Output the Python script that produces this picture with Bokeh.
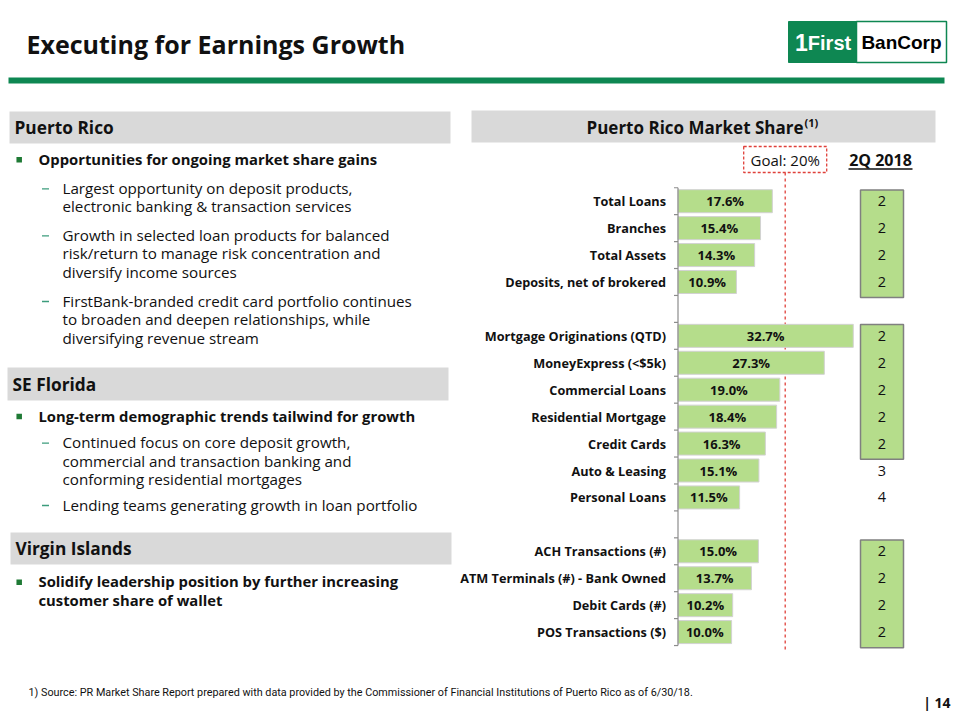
import numpy as np
from bokeh.plotting import figure
from bokeh.models import Range1d
from bokeh.embed import file_html
from bokeh.resources import INLINE
from bokeh.core.properties import value

# ---------------- DATA ----------------
categories = [
    "Total Loans", "Branches", "Total Assets", "Deposits, net of brokered",
    "Mortgage Originations (QTD)", "MoneyExpress (<$5k)", "Commercial Loans",
    "Residential Mortgage", "Credit Cards", "Auto & Leasing", "Personal Loans",
    "ACH Transactions (#)", "ATM Terminals (#) - Bank Owned", "Debit Cards (#)",
    "POS Transactions ($)",
]
shares = [17.6, 15.4, 14.3, 10.9, 32.7, 27.3, 19.0, 18.4, 16.3, 15.1, 11.5,
          15.0, 13.7, 10.2, 10.0]
ranks = [2, 2, 2, 2, 2, 2, 2, 2, 2, 3, 4, 2, 2, 2, 2]
groups = [0, 0, 0, 0, 1, 1, 1, 1, 1, 1, 1, 2, 2, 2, 2]
goal = 20.0
rank_title = "2Q 2018"
chart_title = "Puerto Rico Market Share"
slide_title = "Executing for Earnings Growth"
footnote = ("1) Source: PR Market Share Report prepared with data provided by the "
            "Commissioner of Financial Institutions of Puerto Rico as of 6/30/18.")
page_no = "| 14"

sections = [
    ("Puerto Rico", [
        ("b", ["Opportunities for ongoing market share gains"]),
        ("d", ["Largest opportunity on deposit products,",
               "electronic banking & transaction services"]),
        ("d", ["Growth in selected loan products for balanced",
               "risk/return to manage risk concentration and",
               "diversify income sources"]),
        ("d", ["FirstBank-branded credit card portfolio continues",
               "to broaden and deepen relationships, while",
               "diversifying revenue stream"]),
    ]),
    ("SE Florida", [
        ("b", ["Long-term demographic trends tailwind for growth"]),
        ("d", ["Continued focus on core deposit growth,",
               "commercial and transaction banking and",
               "conforming residential mortgages"]),
        ("d", ["Lending teams generating growth in loan portfolio"]),
    ]),
    ("Virgin Islands", [
        ("b", ["Solidify leadership position by further increasing",
               "customer share of wallet"]),
    ]),
]

# ---------------- STYLE / LAYOUT ----------------
W, H = 960, 720
FONT = value("Open Sans")
GREEN = "#0E8752"
BAR = "#B5DD8B"
GRAY_BOX = "#D9D9D9"
RED = "#E0403A"

X0, SC = 677.5, 5.36      # pixel of 0 %, pixels per %
Y0, RW = 200.7, 26.93     # pixel of first row centre, pixels per row

p = figure(width=W, height=H, x_range=Range1d(0, W), y_range=Range1d(H, 0),
           toolbar_location=None, output_backend="svg", min_border=0,
           x_axis_location=None, y_axis_location=None, title=None)
p.grid.visible = False
p.outline_line_color = None
p.background_fill_color = "white"
p.border_fill_color = "white"
p.extra_x_ranges = {"pct": Range1d(-X0 / SC, (W - X0) / SC)}
p.extra_y_ranges = {"row": Range1d((H - Y0) / RW, -Y0 / RW)}


def txt(x, y, s, size, bold=False, color="#000000", align="left",
        baseline="middle", font=FONT, **kw):
    p.text(x=[x], y=[y], text=[s], text_font=font, text_font_size=f"{size}px",
           text_font_style="bold" if bold else "normal", text_color=color,
           text_align=align, text_baseline=baseline, **kw)


# ---------------- HEADER ----------------
txt(26, 43, slide_title, 25, bold=True, color="#111111")
p.quad(left=[8], right=[944], top=[77], bottom=[83], fill_color=GREEN, line_color=None)
# logo
p.quad(left=[788], right=[856], top=[21], bottom=[62], fill_color=GREEN, line_color=GREEN)
p.quad(left=[856], right=[946], top=[21], bottom=[62], fill_color="white",
       line_color=GREEN, line_width=1.5)
txt(801, 42, "1", 23, bold=True, color="white", align="center",
    font=value("Liberation Sans"))
txt(829, 42, "First", 20, bold=True, color="white", align="center",
    font=value("Liberation Sans"))
txt(901, 42, "BanCorp", 19, bold=True, color="#000000", align="center",
    font=value("Liberation Sans"))

# ---------------- LEFT TEXT ----------------
box_pos = [(9, 450, 111, 143), (7, 448, 367, 400), (10, 451, 532, 564)]
line_y = [
    [[158.3], [187.3, 205.7], [234.3, 252.7, 271.0], [300.0, 318.7, 337.0]],
    [[415.0], [441.7, 460.0, 478.3], [504.0]],
    [[580.7, 599.3]],
]
for (head, items), (l, r, t, b), ys in zip(sections, box_pos, line_y):
    p.quad(left=[l], right=[r], top=[t], bottom=[b], fill_color=GRAY_BOX, line_color=None)
    txt(l + 5, (t + b) / 2, head, 17.3, bold=True, color="#111111")
    for (kind, lines), yy in zip(items, ys):
        if kind == "b":
            p.scatter(x=[18.7], y=[yy[0] + 1], marker="square", size=5.5,
                      fill_color="#1F7A35", line_color=None)
            for s, y in zip(lines, yy):
                txt(38, y, s, 14.8, bold=True, color="#111111")
        else:
            p.segment(x0=[41.5], x1=[48.5], y0=[yy[0] + 1], y1=[yy[0] + 1],
                      line_color="#3C9C7C", line_width=1.3)
            for s, y in zip(lines, yy):
                txt(62, y, s, 15.2, color="#111111")

# ---------------- CHART ----------------
p.quad(left=[471], right=[935], top=[110], bottom=[142], fill_color=GRAY_BOX, line_color=None)
txt(803, 127, chart_title, 17, bold=True, color="#111111", align="right")
txt(804, 122, "(1)", 11, bold=True, color="#111111", align="left")

rows = np.array([i + g for i, g in enumerate(groups)], dtype=float)
max_row = rows.max()

# goal line and box
p.segment(x0=[goal], x1=[goal], y0=[172], y1=[652], x_range_name="pct",
          line_color=RED, line_dash="3 3", line_width=1.3)
p.rect(x=[goal], y=[159], width=83, height=26, width_units="screen",
       height_units="screen", x_range_name="pct", fill_color="white",
       line_color=RED, line_dash="3 2", line_width=1.3)
p.text(x=[goal], y=[159], text=[f"Goal: {goal:.0f}%"], x_range_name="pct",
       text_font=FONT, text_font_size="15px", text_align="center",
       text_baseline="middle", text_color="#111111")

# bars
p.hbar(y=rows, left=0, right=shares, height=0.855, x_range_name="pct",
       y_range_name="row", fill_color=BAR, line_color="#D2D2D2", line_width=1)

# axis line and boundary ticks
p.segment(x0=[0], x1=[0], y0=[-0.5], y1=[max_row + 0.5], x_range_name="pct",
          y_range_name="row", line_color="#8C8C8C", line_width=1.2)
bounds = np.arange(-0.5, max_row + 1.0, 1.0)
p.segment(x0=np.zeros_like(bounds), x1=np.full_like(bounds, -4 / SC), y0=bounds,
          y1=bounds, x_range_name="pct", y_range_name="row",
          line_color="#8C8C8C", line_width=1.2)

# category labels
p.text(x=np.zeros(len(rows)), y=rows, text=categories, x_offset=-12,
       x_range_name="pct", y_range_name="row", text_font=FONT,
       text_font_size="12.7px", text_font_style="bold", text_align="right",
       text_baseline="middle", text_color="#111111")
# value labels
p.text(x=np.array(shares) / 2, y=rows, text=[f"{v:.1f}%" for v in shares],
       x_range_name="pct", y_range_name="row", text_font=FONT,
       text_font_size="13px", text_font_style="bold", text_align="center",
       text_baseline="middle", text_color="#111111")

# rank column
txt(880, 159, rank_title, 16, bold=True, color="#111111", align="center")
p.segment(x0=[848], x1=[912], y0=[168.5], y1=[168.5], line_color="#111111", line_width=1.4)

runs = []
for i, (r, g) in enumerate(zip(ranks, groups)):
    if r <= 2:
        if runs and runs[-1][2] == g and runs[-1][1] == i - 1:
            runs[-1][1] = i
        else:
            runs.append([i, i, g])
for a, b, g in runs:
    p.quad(left=[860], right=[903], top=[rows[a] - 0.42], bottom=[rows[b] + 0.58],
           y_range_name="row", fill_color=BAR, line_color="#808080", line_width=1.5)

p.text(x=np.full(len(rows), 881.5), y=rows, text=[str(r) for r in ranks],
       y_range_name="row", text_font=FONT, text_font_size="14.5px",
       text_align="center", text_baseline="middle", text_color="#111111")

# ---------------- FOOTER ----------------
txt(28, 692, footnote, 10.8, color="#111111", font=value("Roboto"))
txt(950, 702, page_no, 14, bold=True, color="#111111", align="right")

open("out.html", "w").write(file_html(p, INLINE))
